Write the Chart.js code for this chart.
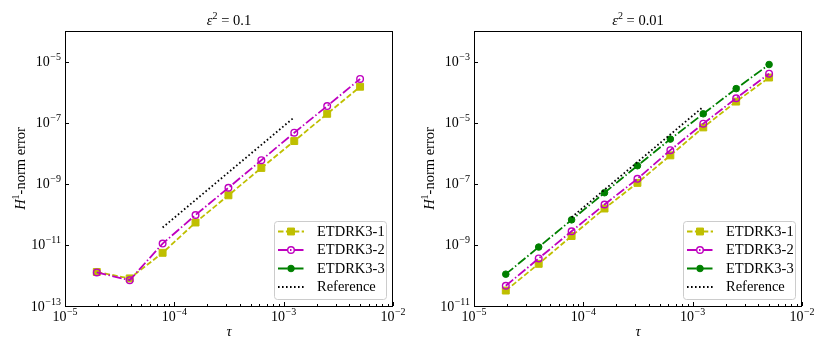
<!DOCTYPE html>
<html>
<head>
<meta charset="utf-8">
<script src="https://cdn.jsdelivr.net/npm/chart.js@4.4.1/dist/chart.umd.min.js"></script>
<style>
  body { margin: 0; background: #fff; }
  #wrap { position: relative; width: 830px; height: 354px; }
  canvas { position: absolute; top: 0; }
</style>
</head>
<body>
<div id="wrap">
  <canvas id="left" width="415" height="354" style="left:0"></canvas>
  <canvas id="right" width="415" height="354" style="left:415px"></canvas>
</div>
<script>
// time steps
const tau = [1.953125e-5, 3.90625e-5, 7.8125e-5, 1.5625e-4, 3.125e-4, 6.25e-4, 1.25e-3, 2.5e-3, 5e-3]
const tauRef = [7.8125e-5, 1.25e-3]

const names = ['ETDRK3-1', 'ETDRK3-2', 'ETDRK3-3', 'Reference']

// eps^2 = 0.1
const errA1 = [1.3e-12, 8e-13, 5.5e-12, 5.4e-11, 4.2e-10, 3.3e-9, 2.5e-8, 1.95e-7, 1.5e-6]
const errA2 = [1.26e-12, 7e-13, 1.1e-11, 9.5e-11, 7.4e-10, 5.9e-9, 4.7e-8, 3.5e-7, 2.7e-6]
const errA3 = []
const refA = [3.7e-11, 1.5e-7]

// eps^2 = 0.01
const errB1 = [3.2e-11, 2.4e-10, 1.95e-9, 1.55e-8, 1.07e-7, 8.5e-7, 7.0e-6, 4.9e-5, 3.0e-4]
const errB2 = [4.6e-11, 3.6e-10, 2.8e-9, 2.1e-8, 1.45e-7, 1.26e-6, 9.3e-6, 6.3e-5, 4.0e-4]
const errB3 = [1.1e-10, 8.5e-10, 6.6e-9, 5.1e-8, 3.9e-7, 2.9e-6, 1.95e-5, 1.3e-4, 8e-4]
const refB = [8e-9, 3.3e-5]

// tick labels (powers of ten)
const xExps = [-5, -4, -3, -2]
const yExpsA = [-13, -11, -9, -7, -5]
const yExpsB = [-11, -9, -7, -5, -3]

const serif = '"Liberation Serif", "Times New Roman", serif'
const MINUS = '\u2212'
const F = '14.5px ' + serif, FS = '10px ' + serif

const pts = (xs, ys) => ys.map((v, i) => ({ x: xs[i], y: v }))

function makeSets(e1, e2, e3, ref) {
    return [
        { label: names[0], data: pts(tau, e1), borderColor: '#bfbf00', backgroundColor: '#bfbf00',
          borderDash: [5.5, 2.4], pointStyle: 'rect', pointRadius: 4.9, pointBorderWidth: 1, order: 4 },
        { label: names[1], data: pts(tau, e2), borderColor: '#bf00bf', backgroundColor: 'rgba(0,0,0,0)',
          borderDash: [9.6, 2.4, 1.5, 2.4], pointStyle: 'circle', pointRadius: 3.3, pointBorderWidth: 1.4, order: 3 },
        { label: names[2], data: pts(tau, e3), borderColor: '#008000', backgroundColor: '#008000',
          borderDash: [9.6, 2.4, 1.5, 2.4], pointStyle: 'circle', pointRadius: 3.3, pointBorderWidth: 1, order: 2 },
        { label: names[3], data: pts(tauRef, ref), borderColor: '#000', backgroundColor: '#000',
          borderDash: [1.6, 2.4], pointRadius: 0, order: 1 }
    ]
}

// draw "10^e", align = 'center' | 'right'
function pow10(ctx, x, y, e, align) {
    const base = '10', sup = e < 0 ? MINUS + (-e) : String(e)
    ctx.font = '14px ' + serif
    const wb = ctx.measureText(base).width
    ctx.font = FS
    const ws = ctx.measureText(sup).width
    const total = wb + ws + 0.5
    let x0 = align === 'right' ? x - total : x - total / 2
    ctx.textAlign = 'left'
    ctx.textBaseline = 'alphabetic'
    ctx.font = '14px ' + serif
    ctx.fillText(base, x0, y)
    ctx.font = FS
    ctx.fillText(sup, x0 + wb + 0.5, y - 6)
}

// text made of pieces [text, font, dy]
function pieces(ctx, parts, cx, y) {
    let w = 0
    parts.forEach(p => { ctx.font = p[1]; p.w = ctx.measureText(p[0]).width; w += p.w })
    let x = cx - w / 2
    ctx.textAlign = 'left'
    ctx.textBaseline = 'alphabetic'
    parts.forEach(p => { ctx.font = p[1]; ctx.fillText(p[0], x, y + (p[2] || 0)); x += p.w })
}

const frame = {
    id: 'frame',
    afterDatasetsDraw(chart, args, opts) {
        const { ctx, chartArea: a, scales: { x, y } } = chart
        ctx.save()
        ctx.fillStyle = '#000'
        ctx.strokeStyle = '#000'
        ctx.lineWidth = 1
        ctx.strokeRect(a.left + 0.5, a.top + 0.5, a.right - a.left - 1, a.bottom - a.top)

        // x ticks, major and minor, pointing in
        ctx.beginPath()
        for (let i = 0; i < xExps.length; i++) {
            const e = xExps[i]
            const px = Math.round(x.getPixelForValue(Math.pow(10, e))) + 0.5
            ctx.moveTo(px, a.bottom); ctx.lineTo(px, a.bottom - 4)
            if (i < xExps.length - 1) {
                for (let m = 2; m < 10; m++) {
                    const qx = Math.round(x.getPixelForValue(m * Math.pow(10, e))) + 0.5
                    ctx.moveTo(qx, a.bottom); ctx.lineTo(qx, a.bottom - 2)
                }
            }
        }
        opts.yExps.forEach(e => {
            const py = Math.round(y.getPixelForValue(Math.pow(10, e))) + 0.5
            ctx.moveTo(a.left, py); ctx.lineTo(a.left + 4, py)
        })
        ctx.stroke()

        xExps.forEach(e => pow10(ctx, x.getPixelForValue(Math.pow(10, e)), a.bottom + 14.5, e, 'center'))
        opts.yExps.forEach(e => pow10(ctx, a.left - 4, y.getPixelForValue(Math.pow(10, e)) + 4.5, e, 'right'))

        const cx = (a.left + a.right) / 2
        pieces(ctx, [['\u03b5', 'italic ' + F], ['2', FS, -6], [' = ' + opts.title, F]], cx, a.top - 6)
        pieces(ctx, [['\u03c4', 'italic ' + F]], cx, a.bottom + 30)

        ctx.save()
        ctx.translate(a.left - 40, (a.top + a.bottom) / 2)
        ctx.rotate(-Math.PI / 2)
        pieces(ctx, [['H', 'italic ' + F], ['1', FS, -6], ['-norm error', F]], 0, 0)
        ctx.restore()

        // legend
        const lw = 112, lh = 78
        const lx = a.right - 7 - lw, ly = a.bottom - 7 - lh
        ctx.beginPath()
        ctx.roundRect(lx + 0.5, ly + 0.5, lw, lh, 3)
        ctx.fillStyle = 'rgba(255,255,255,0.8)'
        ctx.fill()
        ctx.strokeStyle = '#cccccc'
        ctx.lineWidth = 1
        ctx.stroke()
        chart.data.datasets.forEach((ds, i) => {
            const ry = ly + 10.5 + i * 18.5
            ctx.save()
            ctx.strokeStyle = ds.borderColor
            ctx.lineWidth = 1.8
            ctx.setLineDash(ds.borderDash)
            ctx.beginPath()
            ctx.moveTo(lx + 4, ry); ctx.lineTo(lx + 30, ry)
            ctx.stroke()
            ctx.setLineDash([])
            const mx = lx + 17
            if (ds.pointRadius > 0) {
                ctx.lineWidth = ds.pointBorderWidth
                ctx.fillStyle = ds.backgroundColor
                ctx.beginPath()
                if (ds.pointStyle === 'rect') {
                    const s = ds.pointRadius * Math.SQRT1_2
                    ctx.rect(mx - s, ry - s, 2 * s, 2 * s)
                } else {
                    ctx.arc(mx, ry, ds.pointRadius, 0, Math.PI * 2)
                }
                ctx.fill()
                ctx.stroke()
            }
            ctx.restore()
            ctx.fillStyle = '#000'
            ctx.font = F
            ctx.textAlign = 'left'
            ctx.textBaseline = 'middle'
            ctx.fillText(ds.label, lx + 43, ry + 0.5)
        })
        ctx.restore()
    }
}

function makeChart(id, sets, yMin, yMax, pad, title, yExps) {
    return new Chart(document.getElementById(id), {
        type: 'line',
        data: { datasets: sets },
        options: {
            responsive: false,
            animation: false,
            devicePixelRatio: 1,
            layout: { padding: pad },
            elements: { line: { borderWidth: 1.8, tension: 0, fill: false } },
            scales: {
                x: { type: 'logarithmic', min: 1e-5, max: 1e-2, display: false },
                y: { type: 'logarithmic', min: yMin, max: yMax, display: false }
            },
            plugins: {
                legend: { display: false },
                tooltip: { enabled: false },
                frame: { title: title, yExps: yExps }
            }
        },
        plugins: [frame]
    })
}

makeChart('left', makeSets(errA1, errA2, errA3, refA), 1e-13, 1e-4,
    { left: 65, right: 22, top: 31, bottom: 48 }, '0.1', yExpsA)
makeChart('right', makeSets(errB1, errB2, errB3, refB), 1e-11, 1e-2,
    { left: 59, right: 28, top: 31, bottom: 48 }, '0.01', yExpsB)
</script>
</body>
</html>
